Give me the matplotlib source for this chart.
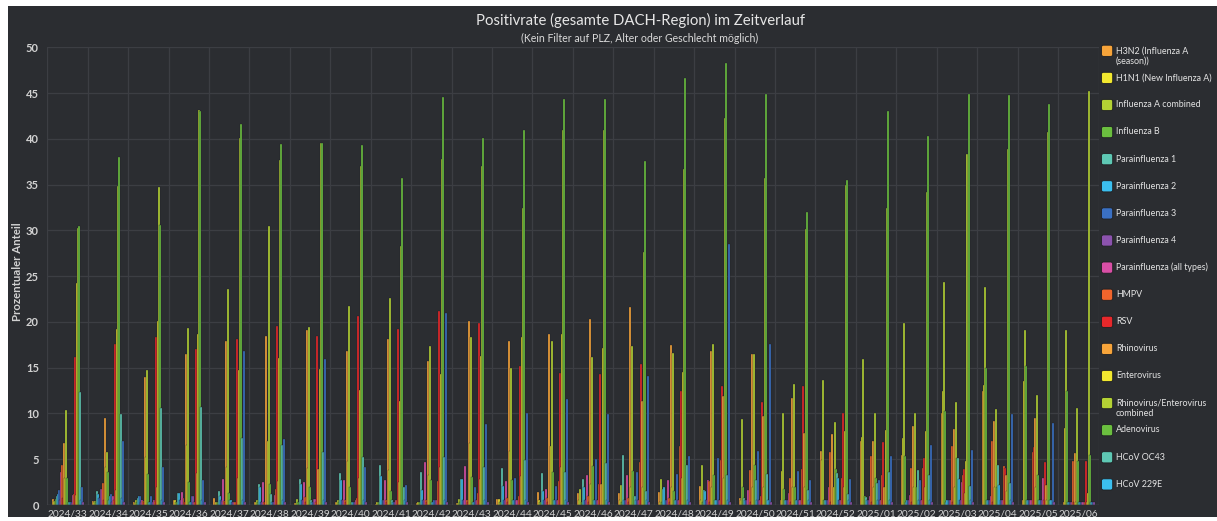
import matplotlib
matplotlib.use("Agg")
import matplotlib.pyplot as plt
import numpy as np
from matplotlib.patches import Rectangle, FancyBboxPatch

plt.rcParams['font.family'] = ['Lato', 'DejaVu Sans']

weeks = ['2024/33', '2024/34', '2024/35', '2024/36', '2024/37', '2024/38', '2024/39',
         '2024/40', '2024/41', '2024/42', '2024/43', '2024/44', '2024/45', '2024/46',
         '2024/47', '2024/48', '2024/49', '2024/50', '2024/51', '2024/52', '2025/01',
         '2025/02', '2025/03', '2025/04', '2025/05', '2025/06']

legend_names = ['H3N2 (Influenza A\n(season))', 'H1N1 (New Influenza A)', 'Influenza A combined',
                'Influenza B', 'Parainfluenza 1', 'Parainfluenza 2', 'Parainfluenza 3',
                'Parainfluenza 4', 'Parainfluenza (all types)', 'HMPV', 'RSV', 'Rhinovirus',
                'Enterovirus', 'Rhinovirus/Enterovirus\ncombined', 'Adenovirus', 'HCoV OC43',
                'HCoV 229E']

palette = ['#F7A43A', '#F2E82F', '#B4D234', '#6BBF3F', '#5EC8B4', '#3BBFEF',
           '#3A70C3', '#8C53AE', '#D94FA6', '#F1652C', '#E7282B']

h3n2 = [.7, .4, .3, .5, .8, .3, .2, .3, .15, .2, .2, .7, 1.4, 1.3, 1.3, 1.4, 2.1, .8, .5, 5.9, 7.0, 5.5, 10.1, 12.5, .5, .3]
h1n1 = [.4, .3, .2, .5, .3, .3, .2, .3, .3, .3, .2, .7, .6, .5, .5, .3, .5, .5, 3.7, 4.9, 7.4, 7.3, 12.4, 13.1, 13.5, 8.4]
inf_a = [.4, .4, .5, .3, .3, .6, .7, .5, .3, .3, .7, .3, .3, 1.8, 2.2, 2.8, 4.4, 9.4, 10.1, 13.7, 15.9, 19.9, 24.4, 23.8, 19.1, 19.1]
inf_b = [.7, .3, .3, .3, .3, .3, .3, .3, .3, .3, .3, .3, .3, .3, .3, .3, .3, 2.0, 1.7, .5, 1.0, 5.3, 10.3, 15.0, 15.2, 12.4]
para1 = [1.0, 1.5, .8, 1.3, 1.5, 2.3, 2.8, 3.5, 4.4, 3.6, 2.8, 4.0, 3.5, 2.8, 5.5, 1.8, 1.6, .8, .6, .5, .9, .3, .3, .5, .5, .3]
para2 = [1.2, 1.2, 1.0, 1.3, 1.0, 2.0, 2.3, 2.7, 3.2, 1.6, 2.8, 2.1, 1.5, 2.0, .5, 2.0, 1.5, .5, .5, .5, .5, .5, .5, .5, .5, .3]
para3 = [1.6, .8, 1.0, .5, .5, .3, .5, .5, .5, .5, .5, .5, .5, .5, .5, .5, .5, .5, .5, .5, .5, .5, .5, .5, .5, .3]
para4 = [.5, 1.7, .3, .5, .4, .3, .5, .5, .5, .5, .5, .5, .5, .5, .5, .5, .5, .5, .5, .5, .5, .5, .5, .5, .5, .3]
para_all = [3.6, 1.7, .6, 1.4, 2.8, 2.5, 2.5, 2.7, 2.7, 4.7, 4.3, 2.6, 1.8, 3.3, 3.3, 2.7, 2.7, 1.6, 1.3, 2.0, 1.0, 1.1, .5, 1.0, .5, .3]
hmpv = [4.4, 2.4, .4, .8, .4, .3, .9, .5, .5, .6, .6, .8, .8, 1.0, .8, .8, 2.6, 3.8, 3.0, 5.8, 5.4, 4.0, 6.4, 7.0, 5.8, 4.8]
rsv = [.8, .5, .3, .3, .3, .3, .3, .3, .3, .3, .3, .3, .3, .3, .3, .3, .3, .3, .3, .3, .3, .3, .3, .3, 6.3, .3]
rhino = [6.8, 9.5, 14.0, 16.5, 17.9, 18.5, 19.1, 16.8, 18.1, 15.7, 20.1, 17.9, 18.7, 20.3, 21.6, 17.5, 16.8, 16.5, 11.7, 7.8, 7.0, 8.6, 8.3, 9.2, 9.5, 5.7]
entero = [3.0, 4.2, 5.2, 6.5, 4.1, 7.0, 4.0, 4.8, 3.8, 3.3, 6.8, 5.9, 6.4, 2.3, 2.0, 2.0, 2.0, 2.0, 2.0, 2.0, 2.0, 2.0, 2.0, 2.0, 2.0, .3]
rhino_entero = [10.4, 5.8, 14.7, 19.3, 23.6, 30.5, 19.4, 21.7, 22.6, 17.4, 18.3, 15.0, 17.9, 16.2, 17.4, 16.6, 17.6, 16.5, 13.2, 9.1, 10.1, 10.0, 11.3, 10.5, 12.0, 10.6]
adeno = [3.0, 3.6, 3.4, 2.5, 1.3, 2.3, 2.0, 2.0, 1.5, 2.7, 3.1, 2.7, 3.6, 4.3, 3.7, 1.5, 3.3, 4.4, 2.0, 3.9, 3.0, 2.0, 5.1, 2.0, 3.3, 4.8]
hcov_oc43 = [.3, .5, .3, .3, .5, 1.2, .5, .3, .5, .3, .3, .5, .5, .5, 1.0, .5, .5, 2.7, .5, 3.5, 2.4, 3.8, 5.1, 4.4, .5, .3]
hcov_229e = [.3, 1.0, .3, .3, .5, .3, .3, .3, .3, .3, .3, .5, .5, .5, .5, .5, .5, .5, .5, 3.0, .5, .5, 2.8, 2.2, .5, .3]
# further series of the chart whose legend entries are cut off in the reference
extra_18 = [.3, 1.2, 1.0, 1.0, .3, .3, .3, .3, .3, .5, 2.0, 3.0, 2.1, 5.0, 3.6, 3.4, 5.1, 5.9, 3.7, .5, 2.7, 2.7, .5, .5, .5, .3]
extra_19 = [.2, .3, .3, 1.0, .3, .3, .7, .3, .3, .5, .5, .5, .5, .5, .5, .5, .5, .5, .5, .5, .5, .5, .5, .5, .5, .3]
extra_20 = [1.1, 1.0, .6, .3, .3, 1.1, .7, .5, .5, .5, .5, .5, .5, .5, .5, .5, .5, .5, .5, .5, .5, .5, 2.5, .5, 3.0, .3]
extra_21 = [1.2, .5, .4, .3, .3, 1.8, .3, .8, .5, 2.6, 1.3, 1.0, 2.6, 2.3, 4.7, 6.4, 4.9, 1.0, 3.9, 3.0, 3.3, 4.0, 3.3, 4.3, .5, .3]
extra_22 = [16.2, 17.6, 18.3, 17.0, 18.1, 19.6, 18.5, 20.7, 19.2, 21.2, 19.9, 15.2, 14.4, 14.3, 15.4, 12.4, 13.0, 11.3, 13.0, 10.1, 6.9, 5.1, 3.9, 4.0, 4.7, 4.8]
extra_23 = [1.1, 1.6, 2.0, 3.5, 3.0, 2.6, 3.9, 3.0, 2.5, 4.1, 2.8, 3.2, 4.2, 2.3, 11.4, 2.9, 11.9, 9.7, 7.9, 2.0, 2.0, 2.0, 1.3, 3.3, 2.2, .3]
extra_24 = [24.2, 19.2, 20.1, 18.7, 14.7, 16.1, 14.9, 12.6, 11.4, 14.3, 16.3, 18.4, 18.7, 17.2, 2.0, 14.5, 3.0, 2.0, 2.0, 8.1, 8.2, 8.1, 4.8, 1.5, .5, 1.3]
extra_25 = [30.3, 34.9, 34.7, 43.2, 40.1, 37.7, 39.6, 37.0, 28.3, 37.8, 37.0, 32.4, 41.0, 41.0, 27.6, 36.7, 42.3, 35.7, 30.1, 35.0, 32.4, 34.2, 38.3, 38.9, 40.7, 45.2]
extra_26 = [30.5, 38.0, 30.6, 43.0, 41.6, 39.4, 39.6, 39.3, 35.7, 44.6, 40.1, 41.0, 44.3, 44.3, 37.6, 46.7, 48.3, 44.9, 32.0, 35.5, 43.0, 40.3, 44.9, 44.8, 43.8, 5.5]
extra_27 = [12.3, 9.9, 10.6, 10.7, 7.3, 6.5, 5.8, 5.2, 2.0, 5.2, 4.2, 4.9, 3.6, 4.6, 1.5, 4.4, 3.3, 3.4, 1.6, 1.2, 3.6, 3.3, 2.1, 2.4, .5, .3]
extra_28 = [.6, .8, .5, .5, .5, .5, .5, .5, .5, .5, .5, .5, .5, .5, .5, .5, .5, .5, .5, .5, .5, .5, .5, .5, .5, .3]
extra_29 = [2.0, 7.0, 4.2, 2.7, 16.8, 7.2, 15.9, 4.2, 2.2, 21.0, 8.9, 10.1, 11.6, 9.9, 14.1, 5.4, 28.5, 17.6, 2.7, 2.8, 5.4, 6.5, 6.0, 9.9, 9.0, .3]
extra_30 = [.3] * 26

series = [h3n2, h1n1, inf_a, inf_b, para1, para2, para3, para4, para_all, hmpv, rsv,
          rhino, entero, rhino_entero, adeno, hcov_oc43, hcov_229e,
          extra_18, extra_19, extra_20, extra_21, extra_22, extra_23, extra_24,
          extra_25, extra_26, extra_27, extra_28, extra_29, extra_30]

W, H = 1217, 521
BG = '#2B2D31'
GRID = '#3C3E43'
TXT = '#D2D2D2'

fig = plt.figure(figsize=(W / 100, H / 100), dpi=100)
fig.patch.set_facecolor('white')

bg = fig.add_axes([0, 0, 1, 1])
bg.set_xlim(0, W)
bg.set_ylim(H, 0)
bg.axis('off')
bg.add_patch(Rectangle((8, 6), W - 8, 511, facecolor=BG, edgecolor='none'))

x_left, x_right, y_top, y_bot = 47.3, 1098.5, 47.3, 505.0
ax = fig.add_axes([x_left / W, 1 - y_bot / H, (x_right - x_left) / W, (y_bot - y_top) / H])
ax.set_facecolor('none')
ax.set_zorder(2)

n = len(series)
group_w = 0.78
pitch = group_w / n
x = np.arange(len(weeks))
for i, vals in enumerate(series):
    ax.bar(x - group_w / 2 + i * pitch, vals, width=1.9 * pitch, align='edge',
           color=palette[i % len(palette)], edgecolor='#1F2023', linewidth=0.25,
           zorder=3)

ax.set_xlim(-0.5, len(weeks) - 0.5)
ax.set_ylim(0, 50)
ax.set_yticks(np.arange(0, 51, 5))
ax.set_xticks(x)
ax.set_xticklabels(weeks)
ax.grid(False)
for yv in np.arange(5, 51, 5):
    ax.axhline(yv, color=GRID, lw=0.9, zorder=1)
for xv in np.arange(-0.5, len(weeks), 1):
    ax.axvline(xv, color=GRID, lw=0.9, zorder=1)
ax.axhline(0, color='#4A4C51', lw=1.0, zorder=4)
for s in ax.spines.values():
    s.set_visible(False)
ax.tick_params(axis='both', which='both', length=0)
ax.tick_params(axis='y', labelsize=8, labelcolor=TXT, pad=6)
ax.tick_params(axis='x', labelsize=7.3, labelcolor=TXT, pad=3)
for lab in ax.get_yticklabels():
    lab.set_fontweight('bold')

fig.text(640 / W, 1 - 20 / H, 'Positivrate (gesamte DACH-Region) im Zeitverlauf',
         ha='center', va='center', fontsize=10.7, color='#E6E6E6')
fig.text(640 / W, 1 - 38 / H, '(Kein Filter auf PLZ, Alter oder Geschlecht möglich)',
         ha='center', va='center', fontsize=7.6, color='#DADADA')
fig.text(18 / W, 1 - 272 / H, 'Prozentualer Anteil', rotation=90, ha='center', va='center',
         fontsize=8.2, fontweight='bold', color=TXT)

# legend (first 17 entries, as visible)
ly0, ldy = 50.7, 27.1
for k, name in enumerate(legend_names):
    cy = ly0 + k * ldy
    bg.add_patch(FancyBboxPatch((1101.5, cy - 5.5), 11.2, 11.2,
                                boxstyle='round,pad=0,rounding_size=2',
                                facecolor=palette[k % len(palette)], edgecolor='#1E1F22', lw=0.6))
    bg.text(1116, cy - 4.6, name, ha='left', va='top', fontsize=6.4, color='#E4E4E4',
            linespacing=1.25)

fig.savefig('out.png', dpi=100, facecolor=fig.get_facecolor())
